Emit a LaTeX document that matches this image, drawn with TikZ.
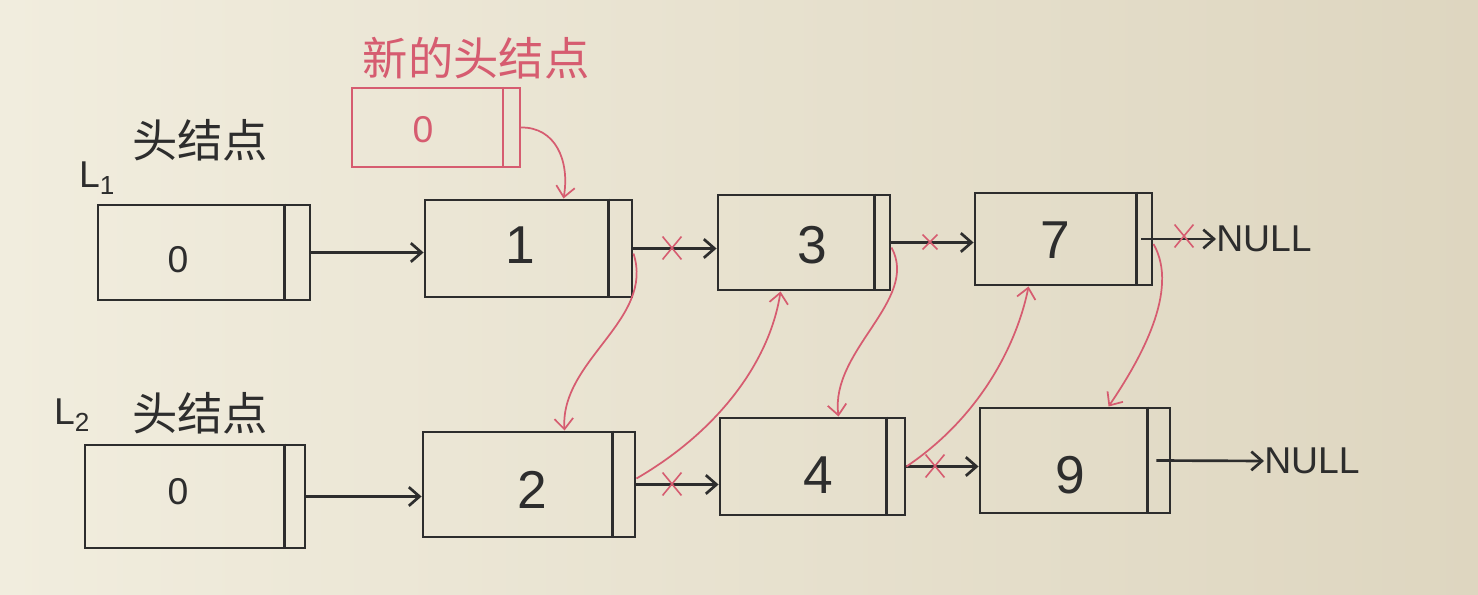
\documentclass[tikz,border=0pt]{standalone}
\usepackage{fontspec}
\setmainfont{Liberation Sans}
\newfontfamily\cjk{Noto Sans CJK SC}
\usetikzlibrary{arrows.meta,fit,calc,shapes.misc}
\definecolor{paper}{RGB}{241,237,222}
\definecolor{paperR}{RGB}{222,214,192}
\definecolor{ink}{RGB}{45,45,45}
\definecolor{pen}{RGB}{214,92,112}
\begin{document}
\begin{tikzpicture}[x=0.75pt,y=-0.75pt,
  box/.style={draw=ink, line width=2.2pt, inner sep=0pt},
  rbox/.style={draw=pen, line width=1.6pt, inner sep=0pt},
  divline/.style={draw=ink, line width=2pt},
  rdivline/.style={draw=pen, line width=1.3pt},
  ptr/.style={draw=ink, line width=2pt, -{Straight Barb[length=8pt,width=14pt,line width=2pt]}},
  rptr/.style={draw=pen, line width=1.3pt, -{Straight Barb[length=8pt,width=14pt,line width=1.3pt]}},
  xmark/.style={cross out, draw=pen, line width=1.2pt, minimum width=13pt, minimum height=16pt, inner sep=0pt},
  bigd/.style={font=\fontsize{40}{44}\selectfont, text=ink, inner sep=0pt},
  smalld/.style={font=\fontsize{28}{30}\selectfont, text=ink, inner sep=0pt},
  cjkt/.style={font=\cjk\fontsize{34}{38}\selectfont, text=ink, inner sep=0pt},
  lab/.style={font=\fontsize{28}{30}\selectfont, text=ink, inner sep=0pt},
  nulltxt/.style={font=\fontsize{28}{30}\selectfont, text=ink, inner sep=0pt}
]
\fill[left color=paper, right color=paperR] (0,0) rectangle (1478,595);
\useasboundingbox (0,0) rectangle (1478,595);

% boxes
\node[box, fit={(98,205)(310,300)}] (h1) {};
\node[box, fit={(425,200)(632,297)}] (n1) {};
\node[box, fit={(718,195)(890,290)}] (n3) {};
\node[box, fit={(975,193)(1152,285)}] (n7) {};
\node[box, fit={(85,445)(305,548)}] (h2) {};
\node[box, fit={(423,432)(635,537)}] (n2) {};
\node[box, fit={(720,418)(905,515)}] (n4) {};
\node[box, fit={(980,408)(1170,513)}] (n9) {};
\node[rbox, fit={(352,88)(520,167)}] (rh) {};

\foreach \n/\d in {h1/27,n1/25,n3/17,n7/17,h2/22,n2/24,n4/20,n9/24}
  \draw[divline] ($(\n.north east)+(-\d,0)$) -- ($(\n.south east)+(-\d,0)$);
\draw[rdivline] ($(rh.north east)+(-18,0)$) -- ($(rh.south east)+(-18,0)$);

% values
\node[smalld] (h1v) at (178,260) {0};
\node[bigd] (n1v) at (520,245) {1};
\node[bigd] (n3v) at (812,245) {3};
\node[bigd] (n7v) at (1055,240) {7};
\node[smalld] (h2v) at (178,492) {0};
\node[bigd] (n2v) at (532,490) {2};
\node[bigd] (n4v) at (818,475) {4};
\node[bigd] (n9v) at (1070,475) {9};
\node[smalld, text=pen] (rhv) at (423,130) {0};

% labels
\node[cjkt] (l1t) at (200,140) {头结点};
\node[lab] (l1) at (97,178) {L\textsubscript{1}};
\node[cjkt] (l2t) at (200,413) {头结点};
\node[lab] (l2) at (72,415) {L\textsubscript{2}};
\node[cjkt, text=pen] (rt) at (476,58) {新的头结点};
\node[nulltxt, anchor=west] (null1) at (1216,239) {NULL};
\node[nulltxt, anchor=west] (null2) at (1264,461) {NULL};

% black pointers
\draw[ptr] (h1.east) -- (h1.east -| n1.west);
\draw[ptr] (n1.east) -- (n1.east -| n3.west);
\draw[ptr] (n3.east) -- (n3.east -| n7.west);
\coordinate (n7p) at ($(n7.east)+(-12,0)$);
\draw[ptr] (n7p) -- (null1.west);
\draw[ptr] (h2.east) -- (h2.east -| n2.west);
\draw[ptr] (n2.east) -- (n2.east -| n4.west);
\draw[ptr] (n4.east) -- (n4.east -| n9.west);
\coordinate (n9p) at ($(n9.east)+(-15,0)$);
\draw[ptr] (n9p) -- (null2.west);

% crossed-out links
\node[xmark] (x1) at (672,248) {};
\node[xmark, minimum width=10pt, minimum height=10pt] (x2) at (930,242) {};
\node[xmark] (x3) at (1184,236) {};
\node[xmark] (x4) at (672,484) {};
\node[xmark] (x5) at (935,466) {};

% red new links
\coordinate (t1) at ($(n1.north west)+(140,0)$);
\coordinate (t2) at ($(n2.north west)+(143,0)$);
\coordinate (t3) at ($(n3.south west)+(64,0)$);
\coordinate (t4) at ($(n4.north west)+(120,0)$);
\coordinate (t7) at ($(n7.south west)+(55,0)$);
\coordinate (t9) at ($(n9.north west)+(130,0)$);
\draw[rptr] (rh.east) .. controls (555,127) and (570,160) .. (t1);
\draw[rptr] ($(n1.east)+(0,5)$) .. controls (655,320) and (560,360) .. (t2);
\draw[rptr] ($(n2.east)+(0,-6)$) .. controls (720,430) and (770,360) .. (t3);
\draw[rptr] ($(n3.east)+(0,5)$) .. controls (920,300) and (830,350) .. (t4);
\draw[rptr] (n4.east) .. controls (990,410) and (1020,330) .. (t7);
\draw[rptr] ($(n7.east)+(0,5)$) .. controls (1180,290) and (1140,360) .. (t9);
\end{tikzpicture}
\end{document}
